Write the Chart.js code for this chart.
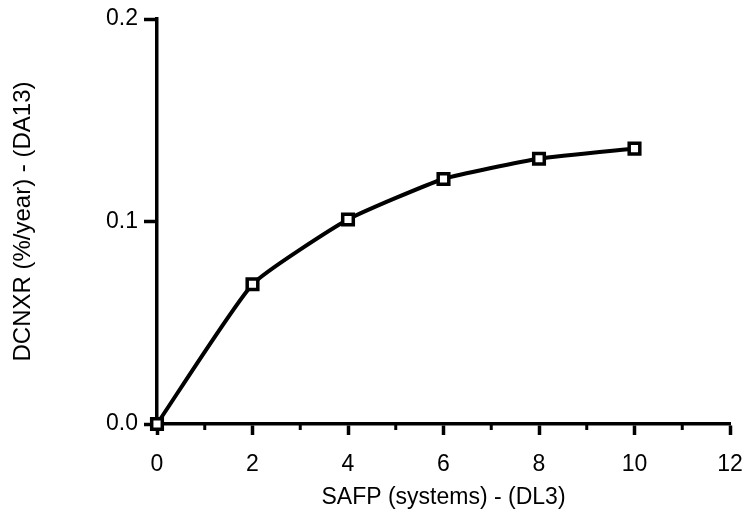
<!DOCTYPE html>
<html>
<head>
<meta charset="utf-8">
<script src="https://cdn.jsdelivr.net/npm/chart.js@4"></script>
<style>
  html, body { margin: 0; padding: 0; background: #fff; }
  #wrap { width: 745px; height: 513px; }
</style>
</head>
<body>
<div id="wrap"><canvas id="chart" width="745" height="513"></canvas></div>
<script>
// ===== Data =====
const safpSystems = [0, 2, 4, 6, 8, 10];
const dcnxrRate = [0.0, 0.069, 0.101, 0.121, 0.131, 0.136];
const xTicks = [0, 2, 4, 6, 8, 10, 12];
const yTicks = [0.0, 0.1, 0.2];

const points = safpSystems.map((x, i) => ({ x, y: dcnxrRate[i] }));
const FONT = 'Liberation Sans, Arial, Helvetica, sans-serif';

// short minor ticks on the x axis at the odd values
const minorTicks = {
  id: 'minorTicks',
  afterDraw(chart) {
    const ctx = chart.ctx;
    const xs = chart.scales.x;
    const bottom = chart.chartArea.bottom;
    ctx.save();
    ctx.strokeStyle = '#000';
    ctx.lineWidth = 3;
    for (let v = 1; v < 12; v += 2) {
      const px = xs.getPixelForValue(v);
      ctx.beginPath();
      ctx.moveTo(px, bottom);
      ctx.lineTo(px, bottom + 6);
      ctx.stroke();
    }
    ctx.restore();
  }
};

new Chart(document.getElementById('chart'), {
  type: 'scatter',
  data: {
    datasets: [
      {
        data: points,
        showLine: true,
        clip: false,
        borderColor: '#000',
        borderWidth: 4,
        tension: 0.15,
        pointStyle: 'rect',
        pointRadius: 7.5,
        pointBackgroundColor: '#fff',
        pointBorderColor: '#000',
        pointBorderWidth: 3.5
      },
      {
        // centre dot of each square marker
        data: points,
        showLine: false,
        clip: false,
        pointRadius: 1.4,
        pointBackgroundColor: '#000',
        pointBorderWidth: 0
      }
    ]
  },
  options: {
    responsive: false,
    animation: false,
    layout: { padding: { top: 19, right: 15, left: 0, bottom: 0 } },
    plugins: { legend: { display: false }, tooltip: { enabled: false } },
    scales: {
      x: {
        type: 'linear',
        min: 0,
        max: 12,
        afterBuildTicks: axis => { axis.ticks = xTicks.map(v => ({ value: v })); },
        afterFit: axis => {
          axis.height = 89;
          axis.paddingLeft = 0;
          axis.paddingRight = 0;
        },
        grid: { drawOnChartArea: false, drawTicks: true, tickLength: 11, tickWidth: 3.5, tickColor: '#000' },
        border: { color: '#000', width: 3.5 },
        ticks: {
          color: '#000',
          font: { family: FONT, size: 23 },
          padding: 16,
          maxRotation: 0,
          callback: v => String(v)
        },
        title: {
          display: true,
          text: 'SAFP (systems) - (DL3)',
          color: '#000',
          font: { family: FONT, size: 23 },
          padding: { top: 4, bottom: 2 }
        }
      },
      y: {
        type: 'linear',
        min: 0,
        max: 0.2,
        afterBuildTicks: axis => { axis.ticks = yTicks.map(v => ({ value: v })); },
        afterFit: axis => {
          axis.width = 157;
          axis.paddingTop = 0;
          axis.paddingBottom = 0;
        },
        grid: { drawOnChartArea: false, drawTicks: true, tickLength: 13, tickWidth: 3.5, tickColor: '#000' },
        border: { color: '#000', width: 3.5 },
        ticks: {
          color: '#000',
          font: { family: FONT, size: 23 },
          padding: 6,
          callback: v => v.toFixed(1)
        },
        title: {
          display: true,
          text: 'DCNXR (%/year) - (DA13)',
          color: '#000',
          font: { family: FONT, size: 24 },
          padding: { top: 9, bottom: 0 }
        }
      }
    }
  },
  plugins: [minorTicks]
});
</script>
</body>
</html>
